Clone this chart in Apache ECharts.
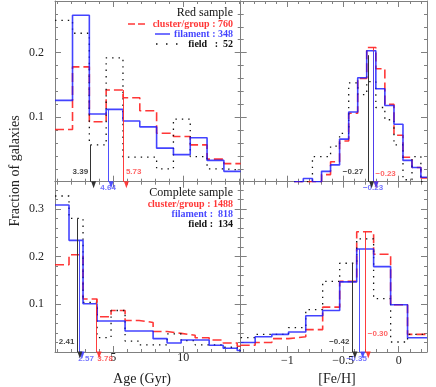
<!DOCTYPE html>
<html lang="en">
<head>
  <meta charset="UTF-8">
  <title>Age and [Fe/H] distributions</title>
  <script src="https://cdn.jsdelivr.net/npm/echarts@6/dist/echarts.min.js"></script>
  <style>
    html, body { margin: 0; padding: 0; background: #fff; }
    #chart { width: 436px; height: 387px; }
  </style>
</head>
<body>
  <div id="chart"></div>
<script>
  // --- data: bin left edges + fraction of galaxies per bin ---
  // red sample, age (Gyr)
  const redAgeEdges    = [0.85, 2.1, 3.3, 4.5, 5.7, 6.9, 8.1, 9.3, 10.5, 11.7, 12.9];
  const redAgeCluster  = [0.081, 0.178, 0.093, 0.142, 0.130, 0.110, 0.075, 0.070, 0.057, 0.035, 0.028];
  const redAgeFilament = [0.126, 0.258, 0.105, 0.112, 0.094, 0.085, 0.052, 0.042, 0.068, 0.033, 0.016];
  const redAgeField    = [0.250, 0.230, 0.057, 0.192, 0.038, 0.038, 0.020, 0.097, 0.039, 0.020, 0.018];
  // red sample, [Fe/H]
  const redFehEdges    = [-0.94, -0.857, -0.775, -0.693, -0.612, -0.531, -0.449, -0.368, -0.287, -0.205, -0.124, -0.042, 0.039, 0.12, 0.2];
  const redFehCluster  = [0, 0, 0, 0.011, 0.031, 0.063, 0.106, 0.160, 0.208, 0.175, 0.120, 0.072, 0.038, 0.022, 0.006];
  const redFehFilament = [0, 0.005, 0, 0.016, 0.026, 0.066, 0.108, 0.161, 0.203, 0.144, 0.118, 0.089, 0.033, 0.022, 0.007];
  const redFehField    = [0, 0, 0.039, 0.039, 0.055, 0.075, 0.153, 0.135, 0.155, 0.115, 0.096, 0.057, 0.003, 0.039, 0];
  // complete sample, age (Gyr)
  const allAgeEdges    = [0.85, 1.85, 2.85, 3.85, 4.85, 5.85, 6.85, 7.85, 8.85, 9.85, 10.85, 11.85, 12.85, 13.85];
  const allAgeCluster  = [0.183, 0.204, 0.111, 0.074, 0.087, 0.066, 0.062, 0.043, 0.039, 0.035, 0.030, 0.025, 0.019, 0.012];
  const allAgeFilament = [0.308, 0.234, 0.101, 0.065, 0.065, 0.044, 0.044, 0.028, 0.019, 0.025, 0.025, 0.014, 0.008, 0.003];
  const allAgeField    = [0.327, 0.280, 0.104, 0.030, 0.087, 0.023, 0.015, 0.015, 0.038, 0.024, 0.015, 0.015, 0.010, 0.003];
  // complete sample, [Fe/H]
  const allFehEdges    = [-1.42, -1.29, -1.14, -0.99, -0.835, -0.683, -0.53, -0.377, -0.225, -0.072, 0.08, 0.235];
  const allFehCluster  = [0.014, 0.020, 0.028, 0.032, 0.047, 0.094, 0.148, 0.252, 0.205, 0.099, 0.037, 0.037];
  const allFehFilament = [0.020, 0.032, 0.037, 0.042, 0.076, 0.087, 0.147, 0.216, 0.179, 0.099, 0.030, 0.030];
  const allFehField    = [0.030, 0.037, 0.037, 0.051, 0.089, 0.148, 0.186, 0.237, 0.112, 0.021, 0.037, 0.037];

  // medians [cluster/group, filament, field] and the height the arrows start from
  const redAgeMedians = [5.73, 4.64, 3.39];
  const redAgeTops    = [0.142, 0.112, 0.057];
  const redFehMedians = [-0.23, -0.23, -0.27];
  const redFehTops    = [0.208, 0.203, 0.196];
  const allAgeMedians = [3.78, 2.57, 2.41];
  const allAgeTops    = [0.111, 0.234, 0.280];
  const allFehMedians = [-0.30, -0.35, -0.42];
  const allFehTops    = [0.252, 0.216, 0.186];

  const redCounts = [760, 348, 52];
  const allCounts = [1488, 818, 134];

  const ageRange = [0.85, 14.1];
  const fehRange = [-1.42, 0.255];
  const fracTop = 0.28;
  const fracBottom = 0.357;

  const RED = 'rgba(255,20,20,0.85)';
  const BLUE = 'rgba(20,20,255,0.8)';
  const BLACK = '#111';
  const FRAME = '#808080';
  const SERIF = '"Liberation Serif", "DejaVu Serif", serif';

  const minus = s => String(s).replace('-', '\u2212');

  const chart = echarts.init(document.getElementById('chart'));

  const grids = [
    { left: 55, top: 1, width: 185.7, height: 180.7 },
    { left: 240.7, top: 1, width: 186.3, height: 180.7 },
    { left: 55, top: 181.7, width: 185.7, height: 170.3 },
    { left: 240.7, top: 181.7, width: 186.3, height: 170.3 }
  ].map(g => Object.assign(g, { containLabel: false, outerBoundsMode: 'none' }));

  const tickStyle = { lineStyle: { color: FRAME, width: 1 } };

  function axisPair(dim, g, range, step, showLabels, fmt, margin) {
    const pos = dim === 'x' ? ['bottom', 'top'] : ['left', 'right'];
    return pos.map((p, k) => ({
      type: 'value',
      gridIndex: g,
      position: p,
      min: range[0],
      max: range[1],
      splitNumber: 3,
      minInterval: step,
      maxInterval: step,
      axisLine: { show: true, onZero: false, lineStyle: { color: FRAME, width: 1 } },
      axisTick: Object.assign({ show: true, inside: true, length: 6 }, tickStyle),
      minorTick: Object.assign({ show: true, splitNumber: 5, length: 3 }, tickStyle),
      splitLine: { show: false },
      axisLabel: {
        show: showLabels && k === 0,
        showMinLabel: false,
        showMaxLabel: false,
        margin: margin != null ? margin : 11,
        color: '#222',
        fontFamily: SERIF,
        fontSize: 12,
        formatter: fmt
      }
    }));
  }

  const xAxis = [].concat(
    axisPair('x', 0, ageRange, 5, false),
    axisPair('x', 1, fehRange, 0.5, false),
    axisPair('x', 2, ageRange, 5, true, v => String(v), 0),
    axisPair('x', 3, fehRange, 0.5, true, v => minus(v), 3)
  );
  const yAxis = [].concat(
    axisPair('y', 0, [0, fracTop], 0.1, true, v => String(v)),
    axisPair('y', 1, [0, fracTop], 0.1, false),
    axisPair('y', 2, [0, fracBottom], 0.1, true, v => String(v)),
    axisPair('y', 3, [0, fracBottom], 0.1, false)
  );

  // label placement for the median values [cluster, filament, field]
  const panels = [
    { edges: redAgeEdges, end: ageRange[1], sets: [redAgeCluster, redAgeFilament, redAgeField],
      medians: redAgeMedians, tops: redAgeTops,
      place: [['right', [0, -10]], ['bottom', [0, 0]], ['left', [0, -10]]] },
    { edges: redFehEdges, end: fehRange[1], sets: [redFehCluster, redFehFilament, redFehField],
      medians: redFehMedians, tops: redFehTops,
      place: [['right', [0, -8]], ['bottom', [0, 0]], ['left', [-3, -10]]] },
    { edges: allAgeEdges, end: ageRange[1], sets: [allAgeCluster, allAgeFilament, allAgeField],
      medians: allAgeMedians, tops: allAgeTops,
      place: [['bottom', [9, 0]], ['bottom', [7, 0]], ['left', [0, -10]]] },
    { edges: allFehEdges, end: fehRange[1], sets: [allFehCluster, allFehFilament, allFehField],
      medians: allFehMedians, tops: allFehTops,
      place: [['right', [0, -18]], ['bottom', [-3, 0]], ['left', [0, -10]]] }
  ];

  const looks = [
    { color: RED, type: [9, 4], width: 1.6, arrow: 'rgba(255,40,40,0.9)' },
    { color: BLUE, type: 'solid', width: 1.6, arrow: 'rgba(60,60,255,0.9)' },
    { color: BLACK, type: [1.4, 5], width: 1.3, arrow: '#333' }
  ];

  function steps(edges, values, end) {
    const pts = edges.map((e, i) => [e, values[i]]);
    pts.push([end, values[values.length - 1]]);
    return pts;
  }

  const series = [];
  panels.forEach((p, g) => {
    p.sets.forEach((vals, s) => {
      const look = looks[s];
      series.push({
        type: 'line',
        step: 'end',
        xAxisIndex: 2 * g,
        yAxisIndex: 2 * g,
        showSymbol: false,
        symbol: 'none',
        animation: false,
        z: s === 1 ? 4 : 3,
        lineStyle: { color: look.color, width: look.width, type: look.type, cap: 'butt' },
        data: steps(p.edges, vals, p.end),
        markLine: {
          silent: true,
          animation: false,
          symbol: ['none', 'triangle'],
          symbolSize: [5, 7],
          symbolOffset: [0, -3],
          lineStyle: { color: look.arrow, width: 1, type: 'solid' },
          label: { show: false },
          data: [[{ coord: [p.medians[s], p.tops[s]] }, { coord: [p.medians[s], 0] }]]
        }
      });
    });
    series.push({
      type: 'scatter',
      xAxisIndex: 2 * g,
      yAxisIndex: 2 * g,
      symbolSize: 1,
      silent: true,
      animation: false,
      itemStyle: { color: 'rgba(0,0,0,0)' },
      data: p.medians.map((m, s) => ({
        value: [m, 0],
        label: {
          show: true,
          position: p.place[s][0],
          offset: p.place[s][1],
          distance: 2,
          formatter: minus(m.toFixed(2)),
          color: s === 2 ? '#111' : looks[s].arrow,
          fontFamily: '"Liberation Sans", Arial, sans-serif',
          fontWeight: 'bold',
          fontSize: 8
        }
      }))
    });
  });

  const legendFont = 'bold 10px ' + SERIF;
  const headFont = '12px ' + SERIF;
  const txt = (text, x, y, font, fill, align) => ({
    type: 'text', silent: true,
    style: { text, x, y, font, fill, align: align || 'right', verticalAlign: 'middle' }
  });

  const graphic = [
    txt('Red sample', 233, 12.5, headFont, '#111'),
    txt('cluster/group : ' + redCounts[0], 233, 24, legendFont, RED),
    txt('filament : ' + redCounts[1], 233, 34, legendFont, BLUE),
    txt('field   :  ' + redCounts[2], 233, 44, legendFont, '#111'),
    { type: 'line', silent: true, shape: { x1: 128, y1: 24, x2: 148, y2: 24 },
      style: { stroke: RED, lineWidth: 1.5, lineDash: [7, 3] } },
    { type: 'line', silent: true, shape: { x1: 155, y1: 34, x2: 170, y2: 34 },
      style: { stroke: BLUE, lineWidth: 1.5 } },
    { type: 'line', silent: true, shape: { x1: 156, y1: 44, x2: 179, y2: 44 },
      style: { stroke: '#111', lineWidth: 1.5, lineDash: [1.5, 8.5] } },
    txt('Complete sample', 233, 192.5, headFont, '#111'),
    txt('cluster/group : ' + allCounts[0], 233, 204, legendFont, RED),
    txt('filament :  ' + allCounts[1], 233, 214, legendFont, BLUE),
    txt('field :  ' + allCounts[2], 233, 224, legendFont, '#111'),
    txt('Age (Gyr)', 142, 379, '14px ' + SERIF, '#222', 'center'),
    txt('[Fe/H]', 337, 379, '14px ' + SERIF, '#222', 'center'),
    { type: 'text', silent: true, x: 15, y: 171, rotation: Math.PI / 2,
      style: { text: 'Fraction of galaxies', x: 0, y: 0, font: '14px ' + SERIF, fill: '#222', align: 'center', verticalAlign: 'middle' } }
  ];

  chart.setOption({
    animation: false,
    backgroundColor: '#fff',
    grid: grids,
    xAxis: xAxis,
    yAxis: yAxis,
    series: series,
    graphic: graphic
  });
</script>
</body>
</html>
